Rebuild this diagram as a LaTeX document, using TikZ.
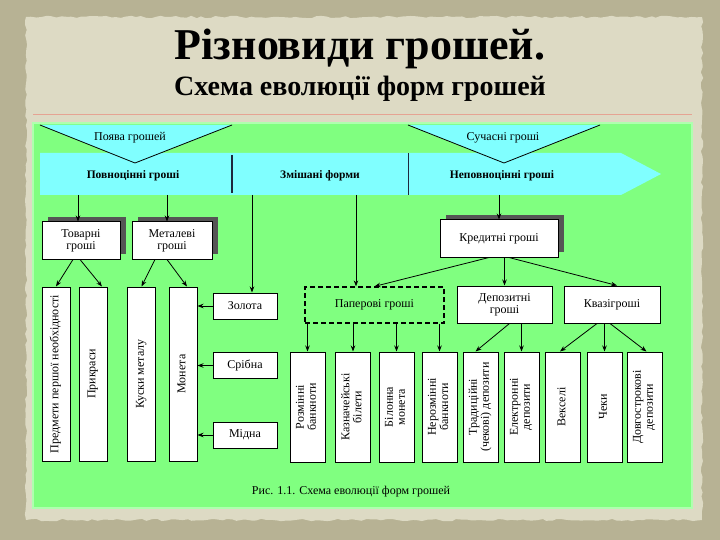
\documentclass[tikz,border=0pt]{standalone}
\usepackage{fontspec}
\setmainfont{Liberation Serif}
\usepackage{graphicx}
\usepackage{xcolor}
\usepackage{tikz}
\usetikzlibrary{shapes,arrows,arrows.meta,positioning,calc,shadows,decorations.pathmorphing}

\definecolor{paneltint}{RGB}{128,255,128}
\definecolor{bandtint}{RGB}{128,255,255}
\definecolor{papertint}{RGB}{221,218,196}
\definecolor{crumbtint}{RGB}{183,178,148}
\definecolor{shadowtint}{RGB}{85,85,85}
\definecolor{edgetint}{RGB}{175,255,175}
\definecolor{septint}{RGB}{30,40,60}

\newcommand{\vtext}[1]{\rotatebox{90}{\begin{tabular}{@{}c@{}}#1\end{tabular}}}

\begin{document}
\begin{tikzpicture}[x=1pt,y=-1pt,>={Stealth[length=6pt,width=4.5pt]},
    box/.style={draw=black,fill=white,line width=1pt,align=center,inner sep=1pt,font=\fontsize{12}{12}\selectfont},
    col/.style={draw=black,fill=white,line width=1pt,inner sep=0pt,font=\fontsize{12}{12}\selectfont},
    shade/.style={drop shadow={shadow xshift=6pt,shadow yshift=5pt,fill=shadowtint,opacity=1}},
    link/.style={->,line width=0.8pt},
    bandtext/.style={font=\fontsize{11.5}{12}\selectfont\bfseries},
    plain/.style={font=\fontsize{12}{12}\selectfont}]
\useasboundingbox (0,0) rectangle (720,540);
% paper sheet
\fill[crumbtint] (0,0) rectangle (720,540);
\pgfmathsetseed{7}
\fill[papertint,decorate,decoration={random steps,segment length=5pt,amplitude=1.2pt}]
    (26,17) -- (702,17) -- (702,520) -- (26,520) -- cycle;
% heading
\node[font=\fontsize{44}{48}\selectfont\bfseries,anchor=base] (title) at (360,60) {Різновиди грошей.};
\node[font=\fontsize{28}{32}\selectfont\bfseries,anchor=base] (subtitle) at (360,96) {Схема еволюції форм грошей};
\draw[red!25!papertint,line width=1pt] (33,115) -- (692,115);
% green panel
\filldraw[fill=paneltint,draw=edgetint,line width=1.5pt] (33,123) rectangle (692,508);

% time band
\fill[bandtint] (40,153) -- (621,153) -- (661,174) -- (621,195) -- (40,195) -- cycle;
\fill[bandtint] (40,125) -- (232,125) -- (135,163) -- cycle;
\fill[bandtint] (408,125) -- (600,125) -- (504,163) -- cycle;
\draw[line width=0.8pt] (40,125) -- (135,163) -- (232,125);
\draw[line width=0.8pt] (408,125) -- (504,163) -- (600,125);
\draw[septint,line width=1.5pt] (232,155) -- (232,193);
\draw[septint,line width=0.8pt] (408,153) -- (408,195);
\node[plain] (appear) at (130,138) {Поява грошей};
\node[plain] (modern) at (503,138) {Сучасні гроші};
\node[bandtext] (full) at (133,176) {Повноцінні гроші};
\node[bandtext] (mixed) at (320,176) {Змішані форми};
\node[bandtext] (token) at (502,176) {Неповноцінні гроші};

% main kinds
\node[box,shade,minimum width=78pt,minimum height=37pt] (tovar) at (81,240.5) {Товарні\\гроші};
\node[box,shade,minimum width=80pt,minimum height=37pt] (metal) at (172,240.5) {Металеві\\гроші};
\node[box,shade,minimum width=118pt,minimum height=37pt] (kredit) at (499,238.5) {Кредитні гроші};

% tall columns
\foreach \x/\n/\t in {56/predm/Предмети першої необхідності, 93/prykr/Прикраси,
    141.5/kusky/Куски металу, 183/moneta/Монета}
  \node[col,minimum width=28pt,minimum height=174pt] (\n) at (\x,374) {\vtext{\t}};

% metals
\node[box,minimum width=64pt,minimum height=26pt] (zolota) at (245,306) {Золота};
\node[box,minimum width=64pt,minimum height=26pt] (sribna) at (245,365.5) {Срібна};
\node[box,minimum width=64pt,minimum height=26pt] (midna) at (245,435) {Мідна};

% second level
\node[box,fill=none,dashed,dash pattern=on 5pt off 3pt,line width=1.2pt,minimum width=139pt,minimum height=36pt] (paper) at (374.5,305) {Паперові гроші};
\node[box,minimum width=95pt,minimum height=37pt] (depoz) at (504.5,304.5) {Депозитні\\гроші};
\node[box,minimum width=96pt,minimum height=37pt] (kvazi) at (612,304.5) {Квазігроші};

% short columns
\foreach \x/\n/\t in {307.5/rozm/Розмінні\\банкноти, 353/kazn/Казначейські\\білети,
    396.5/bilon/Білонна\\монета, 439.5/nerozm/Нерозмінні\\банкноти,
    480.5/trad/Традиційні\\(чекові) депозити, 521.5/elek/Електронні\\депозити,
    563/veks/Векселі, 604.5/cheky/Чеки, 644.5/dovg/Довгострокові\\депозити}
  \node[col,minimum width=35pt,minimum height=110pt] (\n) at (\x,407) {\vtext{\t}};

% arrows from the band
\coordinate (bandbot) at (0,195);
\coordinate (mixA) at (252,195);
\coordinate (mixB) at (356,195);
\draw[link] ([xshift=-3pt]tovar.north |- bandbot) -- ([xshift=-3pt]tovar.north);
\draw[link] ([xshift=-5pt]metal.north |- bandbot) -- ([xshift=-5pt]metal.north);
\draw[link] (mixA) -- (mixA |- zolota.north);
\draw[link] (mixB) -- (mixB |- paper.north);
\draw[link] (kredit.north |- bandbot) -- (kredit.north);

% first level to columns
\draw[link] ([xshift=-8pt]tovar.south) -- (predm.north);
\draw[link] ([xshift=-1pt]tovar.south) -- ([xshift=9pt]prykr.north);
\draw[link] ([xshift=-17pt]metal.south) -- (kusky.north);
\draw[link] ([xshift=-5pt]metal.south) -- ([xshift=4pt]moneta.north);
\foreach \m in {zolota,sribna,midna}
  \draw[link] (\m.west) -- (\m.west -| moneta.east);

% credit money
\draw[link] ([xshift=-10pt]kredit.south) -- (paper.north);
\draw[link] (depoz.north |- kredit.south) -- (depoz.north);
\draw[link] ([xshift=10pt]kredit.south) -- ([xshift=5pt]kvazi.north);
\foreach \c in {rozm,kazn,bilon,nerozm}
  \draw[link] (\c.north |- paper.south) -- (\c.north);
\draw[link] ([xshift=5pt]depoz.south) -- ([xshift=-5pt]trad.north);
\draw[link] (elek.north |- depoz.south) -- (elek.north);
\draw[link] ([xshift=-15pt]kvazi.south) -- ([xshift=-3pt]veks.north);
\draw[link] (cheky.north |- kvazi.south) -- (cheky.north);
\draw[link] ([xshift=-2pt]kvazi.south) -- ([xshift=2pt]dovg.north);

% caption
\node[plain] (caption) at (351,492) {Рис. 1.1. Схема еволюції форм грошей};
\end{tikzpicture}
\end{document}
